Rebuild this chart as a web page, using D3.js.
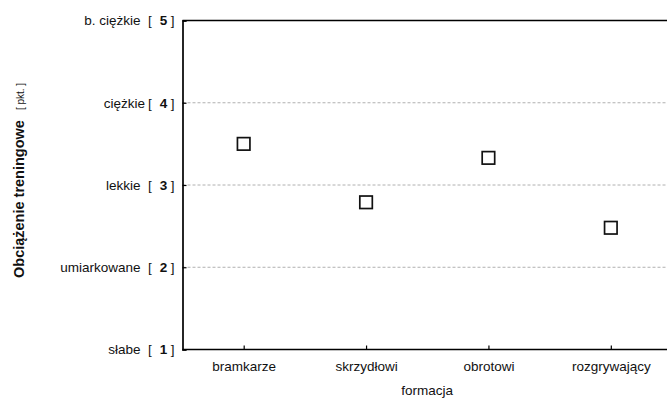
<!DOCTYPE html>
<html>
<head>
<meta charset="utf-8">
<script src="https://cdn.jsdelivr.net/npm/d3@7"></script>
<style>
  html, body { margin: 0; padding: 0; background: #fff; }
  svg { display: block; font-family: "Liberation Sans", Arial, Helvetica, sans-serif; }
  text { white-space: pre; }
</style>
</head>
<body>
<svg id="chart" width="667" height="399"></svg>
<script>
// Training load by playing position
const positions = ["bramkarze", "skrzydłowi", "obrotowi", "rozgrywający"];
const loadValues = [3.50, 2.79, 3.33, 2.48];
const levelValues = [1, 2, 3, 4, 5];
const levelNames = ["słabe", "umiarkowane", "lekkie", "ciężkie", "b. ciężkie"];
const gridValues = [2, 3, 4];

const W = 667, H = 399;
const plot = { left: 182.5, right: 672, top: 20.5, bottom: 349.5 };
const fontSize = 13.5;
const ink = "#111";

const svg = d3.select("#chart");

const x = d3.scalePoint().domain(positions).range([plot.left, plot.right]).padding(0.5);
const y = d3.scaleLinear().domain([1, 5]).range([plot.bottom, plot.top]);

// dashed horizontal grid
svg.append("g").selectAll("line").data(gridValues).join("line")
  .attr("x1", plot.left).attr("x2", W)
  .attr("y1", d => y(d)).attr("y2", d => y(d))
  .attr("stroke", "#b0b0b0").attr("stroke-width", 1)
  .attr("stroke-dasharray", "3,2");

// top frame line
svg.append("line")
  .attr("x1", plot.left).attr("x2", W)
  .attr("y1", y(5)).attr("y2", y(5))
  .attr("stroke", "#000").attr("stroke-width", 1.7);

// left axis with inward ticks
const yAxis = svg.append("g")
  .attr("transform", `translate(${plot.left},0)`)
  .call(d3.axisLeft(y).tickValues(levelValues).tickSize(-4).tickFormat(""));
yAxis.select(".domain").attr("stroke", "#000").attr("stroke-width", 1.7);
yAxis.selectAll(".tick line").attr("stroke", "#000").attr("stroke-width", 1.2);

// y tick labels: level name, then the score in brackets
const yLab = svg.append("g").attr("font-size", fontSize).attr("fill", ink)
  .selectAll("g").data(levelValues).join("g")
  .attr("transform", d => `translate(0,${y(d)})`);
yLab.append("text")
  .attr("x", (d, i) => levelNames[i] === "ciężkie" ? 145 : 140.5)
  .attr("dy", "0.36em").attr("text-anchor", "end")
  .text((d, i) => levelNames[i]);
yLab.append("text").attr("x", 148).attr("dy", "0.36em").text("[");
yLab.append("text").attr("x", 163.5).attr("dy", "0.36em")
  .attr("text-anchor", "middle").attr("font-weight", "bold").text(d => d);
yLab.append("text").attr("x", 174.5).attr("dy", "0.36em")
  .attr("text-anchor", "end").text("]");

// bottom axis with inward ticks
const xAxis = svg.append("g")
  .attr("transform", `translate(0,${plot.bottom})`)
  .call(d3.axisBottom(x).tickSize(-4).tickPadding(12.3));
xAxis.select(".domain").attr("stroke", "#000").attr("stroke-width", 1.7)
  .attr("d", `M${plot.left},0H${W}`);
xAxis.selectAll(".tick line").attr("stroke", "#000").attr("stroke-width", 1.2);
xAxis.selectAll(".tick text").attr("font-size", fontSize).attr("fill", ink)
  .attr("font-family", "Liberation Sans, Arial, sans-serif");

// markers: open squares
const side = 12.5;
svg.append("g").selectAll("rect").data(loadValues).join("rect")
  .attr("x", (d, i) => x(positions[i]) - side / 2)
  .attr("y", d => y(d) - side / 2)
  .attr("width", side).attr("height", side)
  .attr("fill", "#fff").attr("stroke", ink).attr("stroke-width", 1.7);

// x axis title
svg.append("text")
  .attr("x", (plot.left + plot.right) / 2).attr("y", 395)
  .attr("text-anchor", "middle").attr("font-size", fontSize).attr("fill", ink)
  .text("formacja");

// y axis title, read bottom to top
const yTitle = svg.append("text")
  .attr("transform", "translate(23.5,278) rotate(-90)")
  .attr("text-anchor", "start").attr("fill", ink);
yTitle.append("tspan").attr("font-weight", "bold").attr("font-size", 14.5)
  .text("Obciążenie treningowe");
yTitle.append("tspan").attr("dx", 10).attr("font-size", 10)
  .text("[ pkt. ]");
</script>
</body>
</html>
